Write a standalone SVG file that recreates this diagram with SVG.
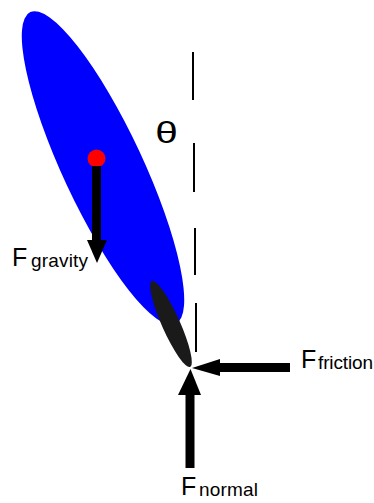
<svg xmlns="http://www.w3.org/2000/svg" width="374" height="503" viewBox="0 0 374 503">
<style>
.big{font-family:"Liberation Sans",Arial,sans-serif;font-size:25px;fill:#000}
.sub{font-family:"Liberation Sans",Arial,sans-serif;font-size:19px;fill:#000}
.shaft{stroke:#000;stroke-width:9;fill:none}
</style>
<rect width="374" height="503" fill="#fff"/>
<g id="body">
<ellipse cx="103" cy="168" rx="172" ry="40" transform="rotate(65 103 168)" fill="#0000ff"/>
<ellipse cx="171" cy="324" rx="47" ry="9" transform="rotate(66 171 324)" fill="#1a1a1a"/>
<circle cx="96.5" cy="158.5" r="9" fill="#ff0000"/>
</g>
<g id="vertical">
<path d="M193 52V100M194 143V192M195 228V275M196 303V352" stroke="#000" stroke-width="2" fill="none"/>
<text transform="translate(166.5 143) scale(1.4 1)" x="0" y="0" class="big" text-anchor="middle" style="font-size:29px">θ</text>
</g>
<g id="connectors">
<line class="shaft" x1="96.5" y1="166" x2="96.5" y2="242"/>
<polygon points="87,240 107,240 97,263"/>
<line class="shaft" x1="290" y1="367.5" x2="218" y2="367.5"/>
<polygon points="220,359 220,376 192,368"/>
<line class="shaft" x1="190" y1="468" x2="190" y2="393"/>
<polygon points="178,395 201,395 190.5,369"/>
</g>
<g id="gravity-label">
<text x="12" y="266" class="big">F</text>
<text x="31" y="267" class="sub" textLength="57">gravity</text>
</g>
<g id="friction-label">
<text x="301" y="368" class="big">F</text>
<text x="318" y="369" class="sub" textLength="55">friction</text>
</g>
<g id="normal-label">
<text x="181" y="495" class="big">F</text>
<text x="199" y="496" class="sub" textLength="59">normal</text>
</g>
</svg>
